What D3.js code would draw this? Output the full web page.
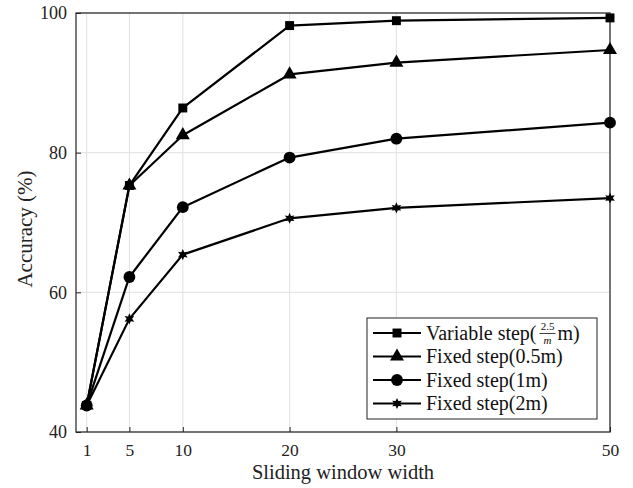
<!DOCTYPE html>
<html>
<head>
<meta charset="utf-8">
<script src="https://cdn.jsdelivr.net/npm/d3@7"></script>
<style>
  body { margin: 0; background: #fff; }
</style>
</head>
<body>
<svg width="633" height="488"></svg>
<script>
const windows = [1, 5, 10, 20, 30, 50];
const variableStep = [43.8, 75.3, 86.4, 98.2, 98.9, 99.3];
const fixed05 = [43.8, 75.3, 82.5, 91.2, 92.9, 94.7];
const fixed1 = [43.8, 62.2, 72.2, 79.3, 82.0, 84.3];
const fixed2 = [43.8, 56.2, 65.4, 70.6, 72.1, 73.5];
const yTicks = [40, 60, 80, 100];

const FONT = "'Liberation Serif', 'Times New Roman', serif";

// six-pointed star marker
const hexagram = {
  draw(ctx, size) {
    const R = Math.sqrt(size) * 0.75, r = R * 0.5;
    for (let k = 0; k < 12; k++) {
      const a = -Math.PI / 2 + k * Math.PI / 6;
      const rad = k % 2 ? r : R;
      if (k === 0) ctx.moveTo(rad * Math.cos(a), rad * Math.sin(a));
      else ctx.lineTo(rad * Math.cos(a), rad * Math.sin(a));
    }
    ctx.closePath();
  }
};

const series = [
  { values: variableStep, symbol: d3.symbolSquare, size: 80 },
  { values: fixed05, symbol: d3.symbolTriangle, size: 85 },
  { values: fixed1, symbol: d3.symbolCircle, size: 110 },
  { values: fixed2, symbol: hexagram, size: 55 }
];

const svg = d3.select("svg");
const m = { left: 76, right: 610, top: 13, bottom: 432 };

const x = d3.scaleLinear().domain([0, 50]).range([m.left, m.right]);
const y = d3.scaleLinear().domain([40, 100]).range([m.bottom, m.top]);

// grid
const grid = svg.append("g").attr("stroke", "#e0e0e0").attr("stroke-width", 1);
grid.selectAll(".gx").data(windows).enter().append("line")
  .attr("x1", d => x(d)).attr("x2", d => x(d))
  .attr("y1", m.top).attr("y2", m.bottom);
grid.selectAll(".gy").data(yTicks).enter().append("line")
  .attr("x1", m.left).attr("x2", m.right)
  .attr("y1", d => y(d)).attr("y2", d => y(d));

// axes (inward ticks)
svg.append("g").attr("transform", `translate(0,${m.bottom})`)
  .call(d3.axisBottom(x).tickValues(windows).tickSizeInner(-5).tickSizeOuter(0).tickPadding(12))
  .call(g => g.select(".domain").remove())
  .call(g => g.selectAll("line").attr("stroke", "#222"))
  .call(g => g.selectAll("text").attr("font-size", 17.5).attr("fill", "#222")
    .style("font-family", FONT));

svg.append("g").attr("transform", `translate(${m.left},0)`)
  .call(d3.axisLeft(y).tickValues(yTicks).tickSizeInner(-5).tickSizeOuter(0).tickPadding(9))
  .call(g => g.select(".domain").remove())
  .call(g => g.selectAll("line").attr("stroke", "#222"))
  .call(g => g.selectAll("text").attr("font-size", 18).attr("fill", "#222")
    .style("font-family", FONT));

svg.append("rect")
  .attr("x", m.left).attr("y", m.top)
  .attr("width", m.right - m.left).attr("height", m.bottom - m.top)
  .attr("fill", "none").attr("stroke", "#222").attr("stroke-width", 1.2);

// lines and markers
const line = d3.line().x((d, i) => x(windows[i])).y(d => y(d));
const plot = svg.append("g");
series.slice().reverse().forEach(s => {
  plot.append("path")
    .attr("d", line(s.values))
    .attr("fill", "none").attr("stroke", "#000").attr("stroke-width", 2.2)
    .attr("stroke-linejoin", "round");
  plot.selectAll(null).data(s.values).enter().append("path")
    .attr("d", d3.symbol(s.symbol, s.size))
    .attr("transform", (d, i) => `translate(${x(windows[i])},${y(d)})`)
    .attr("fill", "#000");
});

// axis labels
svg.append("text")
  .attr("x", 343).attr("y", 479)
  .attr("text-anchor", "middle").attr("font-size", 20.5).attr("fill", "#222")
  .style("font-family", FONT)
  .text("Sliding window width");
svg.append("text")
  .attr("transform", "translate(32,229) rotate(-90)")
  .attr("text-anchor", "middle").attr("font-size", 21).attr("fill", "#222")
  .style("font-family", FONT)
  .text("Accuracy (%)");

// legend
const lg = svg.append("g");
lg.append("rect").attr("x", 367).attr("y", 318).attr("width", 230).attr("height", 101)
  .attr("fill", "#fff").attr("stroke", "#222").attr("stroke-width", 1);
const rowY = [333, 356.5, 380, 403.5];
series.forEach((s, i) => {
  const g = lg.append("g").attr("transform", `translate(0,${rowY[i]})`);
  g.append("line").attr("x1", 373).attr("x2", 421).attr("stroke", "#000").attr("stroke-width", 2.2);
  g.append("path").attr("d", d3.symbol(s.symbol, s.size)).attr("transform", "translate(397,0)");
});
const legendLabels = [null, "Fixed step(0.5m)", "Fixed step(1m)", "Fixed step(2m)"];
legendLabels.forEach((t, i) => {
  if (!t) return;
  lg.append("text").attr("x", 426).attr("y", rowY[i] + 6.5)
    .attr("font-size", 20).attr("fill", "#111").style("font-family", FONT).text(t);
});
// first entry with fraction
const t0 = lg.append("text").attr("x", 426).attr("y", rowY[0] + 6.5)
  .attr("font-size", 20).attr("fill", "#111").style("font-family", FONT).text("Variable step(");
const w0 = t0.node().getComputedTextLength();
const fx = 426 + w0 + 2;
lg.append("text").attr("x", fx + 9).attr("y", rowY[0] - 3.5).attr("text-anchor", "middle")
  .attr("font-size", 11).attr("fill", "#111").style("font-family", FONT).text("2.5");
lg.append("line").attr("x1", fx + 1).attr("x2", fx + 17)
  .attr("y1", rowY[0] + 0.5).attr("y2", rowY[0] + 0.5).attr("stroke", "#111").attr("stroke-width", 0.8);
lg.append("text").attr("x", fx + 9).attr("y", rowY[0] + 10.5).attr("text-anchor", "middle")
  .attr("font-size", 11).attr("font-style", "italic").attr("fill", "#111").style("font-family", FONT).text("m");
lg.append("text").attr("x", fx + 19).attr("y", rowY[0] + 6.5)
  .attr("font-size", 20).attr("fill", "#111").style("font-family", FONT).text("m)");
</script>
</body>
</html>
